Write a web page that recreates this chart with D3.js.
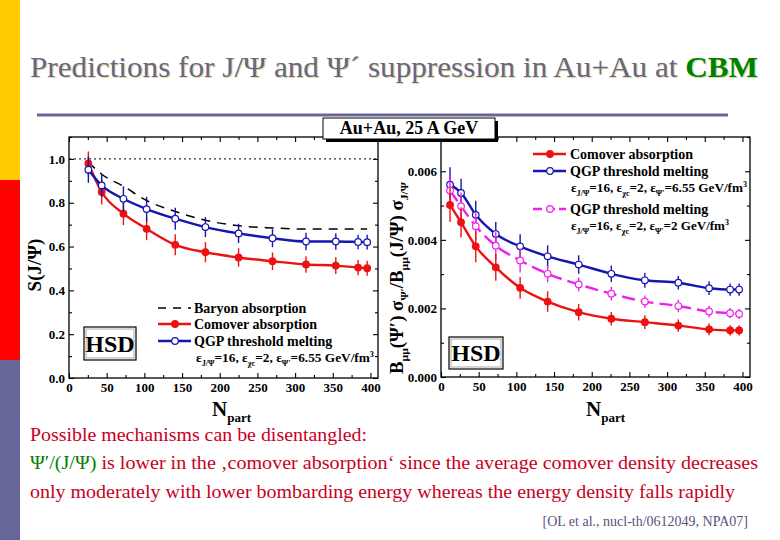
<!DOCTYPE html>
<html><head><meta charset="utf-8">
<script src="https://cdn.jsdelivr.net/npm/d3@7"></script>
<style>
body{margin:0;background:#fff}
svg{display:block}
</style>
</head><body>
<svg id="c" width="780" height="540"></svg>
<script>
// ---------------- data ----------------
const xTickValues = [0, 50, 100, 150, 200, 250, 300, 350, 400];
const xMinorValues = [25, 75, 125, 175, 225, 275, 325, 375];
const yTicksLeft = [0.0, 0.2, 0.4, 0.6, 0.8, 1.0];
const yMinorLeft = [0.1, 0.3, 0.5, 0.7, 0.9, 1.1];
const yTicksRight = [0.000, 0.002, 0.004, 0.006];
const yMinorRight = [0.001, 0.003, 0.005, 0.007];

const npartLeft = [25.7, 43.4, 72.2, 103, 141, 181, 225, 270, 314.5, 354, 383.6, 395.6];
const baryonJpsi = [0.985, 0.93, 0.875, 0.81, 0.76, 0.72, 0.695, 0.685, 0.68, 0.68, 0.68, 0.68];
const comoverJpsi = [0.979, 0.849, 0.750, 0.681, 0.608, 0.574, 0.550, 0.533, 0.518, 0.513, 0.504, 0.501];
const comoverJpsiErr = [0.055, 0.057, 0.052, 0.052, 0.048, 0.046, 0.042, 0.040, 0.038, 0.038, 0.035, 0.034];
const qgpJpsi = [0.951, 0.879, 0.818, 0.771, 0.727, 0.689, 0.660, 0.638, 0.623, 0.623, 0.621, 0.620];
const qgpJpsiErr = [0.060, 0.053, 0.057, 0.056, 0.050, 0.046, 0.044, 0.041, 0.040, 0.038, 0.033, 0.034];

const npartRight = [12, 26.6, 46.1, 72.7, 105, 141.5, 182.7, 226, 270.5, 314.9, 355.7, 383.6, 395.6];
const comoverRatio = [0.00502, 0.00451, 0.00381, 0.00320, 0.00260, 0.00220, 0.00189, 0.00170, 0.00160, 0.00150, 0.00139, 0.00136, 0.00136];
const comoverRatioErr = [0.00050, 0.00044, 0.00046, 0.00039, 0.00032, 0.00030, 0.00024, 0.00020, 0.00020, 0.00018, 0.00017, 0.00015, 0.00015];
const qgpRatio = [0.00561, 0.00537, 0.00473, 0.00417, 0.00381, 0.00352, 0.00328, 0.00301, 0.00282, 0.00275, 0.00259, 0.00255, 0.00255];
const qgpRatioErr = [0.00051, 0.00041, 0.00041, 0.00035, 0.00035, 0.00032, 0.00027, 0.00024, 0.00022, 0.00020, 0.00020, 0.00018, 0.00018];
const qgp2Ratio = [0.00544, 0.00498, 0.00440, 0.00383, 0.00340, 0.00301, 0.00270, 0.00243, 0.00220, 0.00207, 0.00191, 0.00186, 0.00184];
const qgp2RatioErr = [0.00045, 0.00040, 0.00040, 0.00040, 0.00035, 0.00025, 0.00020, 0.00020, 0.00018, 0.00018, 0.00017, 0.00015, 0.00015];

// ---------------- colours / fonts ----------------
const RED = "#ee1111", BLUE = "#1515b0", MAG = "#ee22ee";
const SERIF = "'Liberation Serif', 'Times New Roman', serif";

const svg = d3.select("#c");

// slide decoration
svg.append("rect").attr("x", 0).attr("y", 0).attr("width", 20).attr("height", 180).attr("fill", "#ffcc00");
svg.append("rect").attr("x", 0).attr("y", 180).attr("width", 20).attr("height", 180).attr("fill", "#ff0000");
svg.append("rect").attr("x", 0).attr("y", 360).attr("width", 20).attr("height", 180).attr("fill", "#666699");
svg.append("line").attr("x1", 37).attr("x2", 728).attr("y1", 115).attr("y2", 115)
  .attr("stroke", "#666699").attr("stroke-width", 3);

// title
function title(dx, dy, col, cbmCol) {
  const t = svg.append("text").attr("x", 30 + dx).attr("y", 77 + dy)
    .attr("font-size", 29).attr("textLength", 728).attr("lengthAdjust", "spacingAndGlyphs");
  t.append("tspan").attr("fill", col).text("Predictions for J/\u03A8 and  \u03A8\u00B4 suppression in Au+Au at ");
  t.append("tspan").attr("fill", cbmCol).attr("font-weight", "bold").text("CBM");
}
title(1.2, 1.2, "#e9dc9a", "#c8e0a0");
title(0, 0, "#66668a", "#008000");

// rich text helper: parts [text, mode] mode: "", "sub", "sup"
function rich(t, parts, base) {
  let cur = 0;
  parts.forEach(([s, m]) => {
    const target = m === "sub" ? base * 0.3 : m === "sup" ? -base * 0.38 : 0;
    const sp = t.append("tspan").attr("dy", target - cur).text(s);
    sp.attr("font-size", m ? base * 0.62 : base);
    cur = target;
  });
  return t;
}

// ---------------- panels ----------------
const fmt1 = d3.format(".1f"), fmt3 = d3.format(".3f");
function panel(x0, x1, y0, y1, yDomain, yMajor, yMinor, yFmt) {
  const x = d3.scaleLinear().domain([0, 410]).range([x0, x1]);
  const y = d3.scaleLinear().domain(yDomain).range([y1, y0]);
  const g = svg.append("g");
  g.append("rect").attr("x", x0).attr("y", y0).attr("width", x1 - x0).attr("height", y1 - y0)
    .attr("fill", "#fff").attr("stroke", "#000").attr("stroke-width", 1.3);
  const style = a => {
    a.select(".domain").remove();
    a.selectAll("line").attr("stroke", "#000").attr("stroke-width", 1.1);
    a.selectAll("text").attr("font-weight", "bold").attr("font-size", 13).attr("fill", "#000");
  };
  g.append("g").attr("transform", `translate(0,${y1})`)
    .call(d3.axisBottom(x).tickValues(xTickValues).tickSize(-5).tickPadding(5).tickFormat(d3.format("d"))).call(style);
  g.append("g").attr("transform", `translate(0,${y1})`)
    .call(d3.axisBottom(x).tickValues(xMinorValues).tickSize(-3).tickFormat("")).call(style);
  g.append("g").attr("transform", `translate(0,${y0})`)
    .call(d3.axisTop(x).tickValues(xTickValues).tickSize(-5).tickFormat("")).call(style);
  g.append("g").attr("transform", `translate(0,${y0})`)
    .call(d3.axisTop(x).tickValues(xMinorValues).tickSize(-3).tickFormat("")).call(style);
  g.append("g").attr("transform", `translate(${x0},0)`)
    .call(d3.axisLeft(y).tickValues(yMajor).tickSize(-5).tickPadding(4).tickFormat(yFmt)).call(style);
  g.append("g").attr("transform", `translate(${x0},0)`)
    .call(d3.axisLeft(y).tickValues(yMinor).tickSize(-3).tickFormat("")).call(style);
  g.append("g").attr("transform", `translate(${x1},0)`)
    .call(d3.axisRight(y).tickValues(yMajor).tickSize(-5).tickFormat("")).call(style);
  g.append("g").attr("transform", `translate(${x1},0)`)
    .call(d3.axisRight(y).tickValues(yMinor).tickSize(-3).tickFormat("")).call(style);
  return {x, y, g};
}

function series(p, xs, ys, errs, col, opts) {
  const line = d3.line().x((d, i) => p.x(xs[i])).y(d => p.y(d)).curve(d3.curveMonotoneX);
  if (errs) {
    p.g.append("g").selectAll("line").data(ys).join("line")
      .attr("x1", (d, i) => p.x(xs[i])).attr("x2", (d, i) => p.x(xs[i]))
      .attr("y1", (d, i) => p.y(d - errs[i])).attr("y2", (d, i) => p.y(d + errs[i]))
      .attr("stroke", col).attr("stroke-width", 1.4);
  }
  p.g.append("path").datum(ys).attr("d", line).attr("fill", "none").attr("stroke", col)
    .attr("stroke-width", opts.w || 2.4).attr("stroke-dasharray", opts.dash || null);
  if (opts.marker) {
    p.g.append("g").selectAll("circle").data(ys).join("circle")
      .attr("cx", (d, i) => p.x(xs[i])).attr("cy", d => p.y(d)).attr("r", 3.3)
      .attr("fill", opts.marker === "filled" ? col : "#fff").attr("stroke", col).attr("stroke-width", 1.2);
  }
}

// Left panel
const L = panel(69, 378, 137, 378, [0, 1.1], yTicksLeft, yMinorLeft, fmt1);
L.g.append("line").attr("x1", 69).attr("x2", 378).attr("y1", L.y(1.0)).attr("y2", L.y(1.0))
  .attr("stroke", "#000").attr("stroke-width", 1).attr("stroke-dasharray", "2,3");
series(L, npartLeft, baryonJpsi, null, "#000", {w: 1.5, dash: "9,7"});
series(L, npartLeft, comoverJpsi, comoverJpsiErr, RED, {marker: "filled"});
series(L, npartLeft, qgpJpsi, qgpJpsiErr, BLUE, {marker: "open"});

// Right panel
const R = panel(441, 750, 137, 377, [0, 0.007], yTicksRight, yMinorRight, fmt3);
series(R, npartRight, qgpRatio, qgpRatioErr, BLUE, {marker: "open"});
series(R, npartRight, qgp2Ratio, qgp2RatioErr, MAG, {marker: "open", dash: "13,6"});
series(R, npartRight, comoverRatio, comoverRatioErr, RED, {marker: "filled"});

// legends
function legendRow(x, y, col, marker, dash, w) {
  svg.append("line").attr("x1", x).attr("x2", x + 33).attr("y1", y).attr("y2", y)
    .attr("stroke", col).attr("stroke-width", w || 2.4).attr("stroke-dasharray", dash || null);
  if (marker) svg.append("circle").attr("cx", x + 17).attr("cy", y).attr("r", 3.3)
    .attr("fill", marker === "filled" ? col : "#fff").attr("stroke", col).attr("stroke-width", 1.2);
}
function legendText(x, y, s) {
  svg.append("text").attr("x", x).attr("y", y + 4.5).attr("font-size", 14).attr("font-weight", "bold").text(s);
}
function epsText(x, y, last, len) {
  const t = svg.append("text").attr("x", x).attr("y", y).attr("font-weight", "bold")
    .attr("textLength", len).attr("lengthAdjust", "spacingAndGlyphs");
  rich(t, [["\u03B5", ""], ["J/\u03A8", "sub"], ["=16, \u03B5", ""], ["\u03C7c", "sub"], ["=2, \u03B5", ""],
           ["\u03A8\u2032", "sub"], ["=" + last + " GeV/fm", ""], ["3", "sup"]], 13);
}
legendRow(158, 308, "#000", null, "8,7", 1.5);
legendText(194, 308, "Baryon absorption");
legendRow(158, 324, RED, "filled");
legendText(194, 324, "Comover absorption");
legendRow(158, 341, BLUE, "open");
legendText(194, 341, "QGP threshold melting");
epsText(196, 362, "6.55", 178);

legendRow(533, 154, RED, "filled");
legendText(570, 154, "Comover absorption");
legendRow(533, 171, BLUE, "open");
legendText(570, 171, "QGP threshold melting");
epsText(571, 192, "6.55", 176);
legendRow(533, 209, MAG, "open", "9,4");
legendText(570, 209, "QGP threshold melting");
epsText(571, 230, "2", 158);

// HSD boxes
function hsd(x, y, w, h) {
  svg.append("rect").attr("x", x).attr("y", y).attr("width", w).attr("height", h)
    .attr("fill", "#fff").attr("stroke", "#000").attr("stroke-width", 1.2);
  svg.append("rect").attr("x", x + 2).attr("y", y + 2).attr("width", w - 4).attr("height", h - 4)
    .attr("fill", "none").attr("stroke", "#999").attr("stroke-width", 0.8);
  svg.append("text").attr("x", x + w / 2).attr("y", y + h / 2 + 8).attr("text-anchor", "middle")
    .attr("font-size", 24).attr("font-weight", "bold").text("HSD");
}
hsd(84, 327, 52, 33);
hsd(449, 337, 54, 32);

// Au+Au box
svg.append("rect").attr("x", 326).attr("y", 121).attr("width", 172).attr("height", 21).attr("fill", "#000");
svg.append("rect").attr("x", 323).attr("y", 118).attr("width", 172).attr("height", 21)
  .attr("fill", "#fff").attr("stroke", "#000").attr("stroke-width", 1);
svg.append("text").attr("x", 409).attr("y", 134).attr("text-anchor", "middle")
  .attr("font-size", 18).attr("font-weight", "bold").text("Au+Au, 25 A GeV");

// axis titles
const yl = svg.append("text").attr("transform", "translate(41,265) rotate(-90)").attr("text-anchor", "middle")
  .attr("font-weight", "bold");
rich(yl, [["S(J/\u03A8)", ""]], 19);
const yr = svg.append("text").attr("transform", "translate(403,278) rotate(-90)").attr("text-anchor", "middle")
  .attr("font-weight", "bold").attr("textLength", 192).attr("lengthAdjust", "spacingAndGlyphs");
rich(yr, [["B", ""], ["\u03BC\u03BC", "sub"], ["(\u03A8\u2032) \u03C3", ""], ["\u03A8\u2032", "sub"], ["/B", ""],
          ["\u03BC\u03BC", "sub"], ["(J/\u03A8) \u03C3", ""], ["J/\u03A8", "sub"]], 18);

function npart(x) {
  const t = svg.append("text").attr("x", x).attr("y", 416).attr("font-weight", "bold");
  rich(t, [["N", ""], ["part", "sub"]], 21);
}
npart(212);
npart(586);

// bottom text
const TXT = "#c8001e";
svg.append("text").attr("x", 30).attr("y", 441).attr("font-size", 19).attr("fill", TXT)
  .attr("textLength", 337).attr("lengthAdjust", "spacingAndGlyphs")
  .text("Possible mechanisms can be disentangled:");
const l2 = svg.append("text").attr("x", 30).attr("y", 469).attr("font-size", 19)
  .attr("textLength", 728).attr("lengthAdjust", "spacingAndGlyphs");
l2.append("tspan").attr("fill", "#008000").text("\u03A8\u2032/(J/\u03A8)");
l2.append("tspan").attr("fill", TXT).text(" is lower in the \u201Acomover absorption\u2018 since the average comover density decreases");
svg.append("text").attr("x", 30).attr("y", 498).attr("font-size", 19).attr("fill", TXT)
  .attr("textLength", 705).attr("lengthAdjust", "spacingAndGlyphs")
  .text("only moderately with lower bombarding energy whereas the energy density falls rapidly");
svg.append("text").attr("x", 748).attr("y", 526).attr("font-size", 14).attr("fill", "#55557a")
  .attr("text-anchor", "end").text("[OL et al., nucl-th/0612049, NPA07]");

// serif font on every text element
svg.selectAll("text").style("font-family", SERIF);
</script>
</body></html>
